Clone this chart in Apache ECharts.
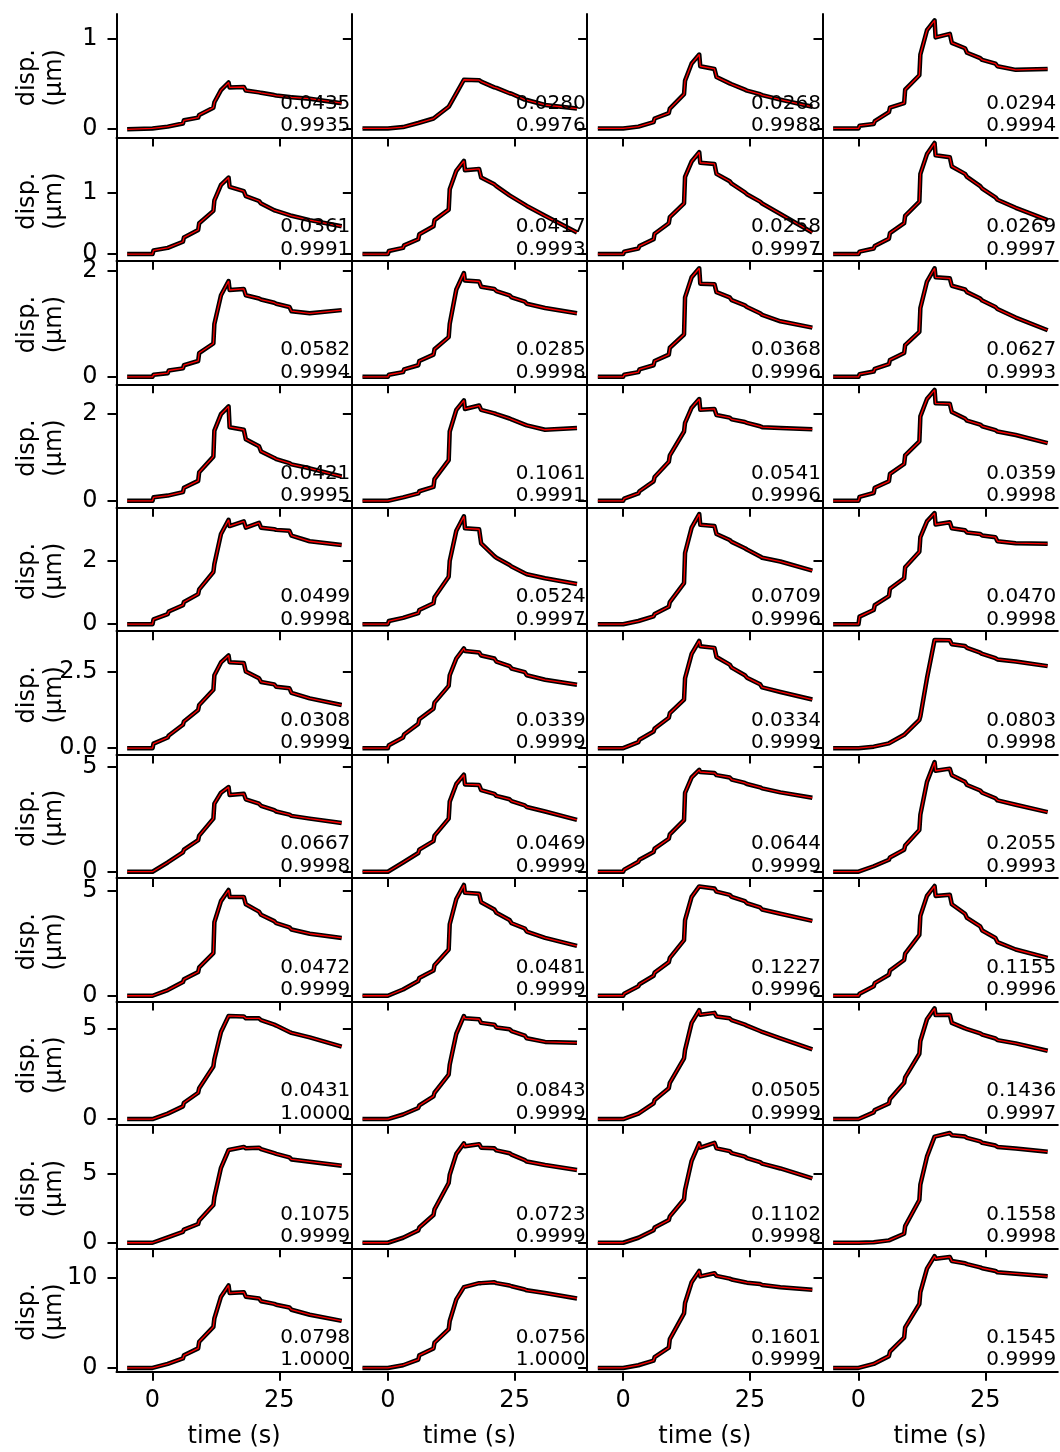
<!DOCTYPE html>
<html><head><meta charset="utf-8">
<script src="https://cdn.jsdelivr.net/npm/echarts@6/dist/echarts.min.js"></script>
<style>html,body{margin:0;padding:0;background:#fff}#c{width:1060px;height:1452px}</style>
</head><body><div id="c"></div>
<script>
// time points (s)
const times = [-5, 0, 0.2, 3, 3.2, 6, 6.2, 9, 9.2, 12, 12.2, 13.5, 15, 15.2, 18, 18.4, 21, 21.4, 24, 24.4, 27, 27.4, 31, 37.3];

// displacement (um), one row of four panels each
const row1 = [
  [-0.01, 0.0, 0.0, 0.02, 0.025, 0.055, 0.09, 0.12, 0.15, 0.23, 0.29, 0.425, 0.51, 0.455, 0.46, 0.42, 0.40, 0.395, 0.37, 0.365, 0.35, 0.345, 0.33, 0.28],
  [0.0, 0.0, 0.005, 0.015, 0.03, 0.06, 0.075, 0.11, 0.13, 0.24, 0.25, 0.39, 0.54, 0.53, 0.535, 0.52, 0.455, 0.45, 0.39, 0.385, 0.32, 0.315, 0.26, 0.22],
  [0.0, 0.0, 0.005, 0.02, 0.035, 0.07, 0.11, 0.17, 0.22, 0.38, 0.53, 0.72, 0.82, 0.69, 0.66, 0.57, 0.5, 0.49, 0.43, 0.42, 0.38, 0.37, 0.32, 0.24],
  [0.0, 0.0, 0.03, 0.05, 0.08, 0.18, 0.23, 0.28, 0.43, 0.59, 0.82, 1.09, 1.20, 1.01, 1.05, 0.95, 0.89, 0.84, 0.78, 0.76, 0.72, 0.69, 0.65, 0.66]
];
const row2 = [
  [0.0, 0.0, 0.06, 0.1, 0.12, 0.2, 0.27, 0.39, 0.5, 0.7, 0.87, 1.12, 1.24, 1.09, 1.02, 0.94, 0.86, 0.82, 0.71, 0.70, 0.63, 0.62, 0.55, 0.45],
  [0.0, 0.0, 0.05, 0.1, 0.14, 0.24, 0.32, 0.45, 0.55, 0.72, 1.05, 1.35, 1.51, 1.36, 1.38, 1.24, 1.13, 1.1, 0.95, 0.93, 0.8, 0.78, 0.62, 0.35],
  [0.0, 0.0, 0.04, 0.09, 0.13, 0.24, 0.33, 0.5, 0.6, 0.82, 1.25, 1.5, 1.65, 1.48, 1.46, 1.3, 1.18, 1.14, 1.0, 0.97, 0.85, 0.82, 0.65, 0.35],
  [0.0, 0.0, 0.04, 0.09, 0.13, 0.25, 0.34, 0.5, 0.62, 0.85, 1.3, 1.62, 1.80, 1.6, 1.57, 1.42, 1.3, 1.25, 1.1, 1.06, 0.92, 0.88, 0.75, 0.55]
];
const row3 = [
  [0.0, 0.0, 0.04, 0.07, 0.12, 0.16, 0.22, 0.3, 0.45, 0.63, 1.0, 1.54, 1.81, 1.64, 1.66, 1.54, 1.48, 1.46, 1.4, 1.38, 1.32, 1.24, 1.2, 1.26],
  [0.0, 0.0, 0.04, 0.09, 0.14, 0.22, 0.3, 0.42, 0.52, 0.75, 1.0, 1.65, 1.96, 1.82, 1.8, 1.7, 1.66, 1.62, 1.54, 1.5, 1.42, 1.38, 1.3, 1.2],
  [0.0, 0.0, 0.04, 0.09, 0.14, 0.22, 0.3, 0.42, 0.55, 0.8, 1.5, 1.88, 2.05, 1.76, 1.75, 1.6, 1.5, 1.45, 1.35, 1.32, 1.2, 1.17, 1.05, 0.93],
  [0.0, 0.0, 0.05, 0.1, 0.15, 0.24, 0.32, 0.45, 0.6, 0.85, 1.3, 1.8, 2.05, 1.88, 1.86, 1.72, 1.65, 1.6, 1.48, 1.44, 1.32, 1.28, 1.12, 0.88]
];
const row4 = [
  [0.0, 0.0, 0.08, 0.12, 0.14, 0.2, 0.3, 0.46, 0.66, 1.02, 1.62, 2.0, 2.18, 1.7, 1.64, 1.42, 1.26, 1.14, 0.99, 0.96, 0.87, 0.84, 0.75, 0.56],
  [0.0, 0.0, 0.04, 0.08, 0.1, 0.17, 0.22, 0.32, 0.5, 0.94, 1.6, 2.1, 2.32, 2.12, 2.2, 2.1, 2.02, 2.0, 1.9, 1.88, 1.76, 1.74, 1.64, 1.68],
  [0.0, 0.0, 0.05, 0.17, 0.22, 0.45, 0.55, 0.9, 1.05, 1.6, 1.8, 2.15, 2.35, 2.1, 2.12, 1.98, 1.92, 1.88, 1.82, 1.8, 1.72, 1.7, 1.68, 1.65],
  [0.0, 0.0, 0.09, 0.18, 0.3, 0.45, 0.62, 0.85, 1.05, 1.37, 1.95, 2.35, 2.56, 2.25, 2.24, 2.05, 1.9, 1.85, 1.76, 1.72, 1.63, 1.6, 1.52, 1.33]
];
const row5 = [
  [0.0, 0.0, 0.15, 0.32, 0.4, 0.6, 0.7, 0.95, 1.1, 1.65, 1.9, 2.85, 3.3, 3.1, 3.25, 3.05, 3.2, 3.05, 3.0, 2.98, 2.95, 2.8, 2.62, 2.5],
  [0.0, 0.0, 0.1, 0.2, 0.25, 0.35, 0.45, 0.66, 0.85, 1.5, 2.0, 2.95, 3.41, 3.03, 3.0, 2.55, 2.15, 2.1, 1.87, 1.82, 1.61, 1.58, 1.45, 1.27],
  [0.0, 0.0, 0.05, 0.1, 0.13, 0.25, 0.32, 0.55, 0.7, 1.3, 2.25, 3.05, 3.48, 3.14, 3.1, 2.85, 2.66, 2.6, 2.4, 2.36, 2.14, 2.1, 1.98, 1.69],
  [0.0, 0.0, 0.24, 0.45, 0.6, 0.89, 1.12, 1.45, 1.8, 2.29, 2.75, 3.25, 3.51, 3.15, 3.22, 3.03, 2.97, 2.9, 2.85, 2.8, 2.75, 2.62, 2.56, 2.54]
];
const row6 = [
  [0.0, 0.0, 0.15, 0.35, 0.42, 0.77, 0.88, 1.26, 1.42, 1.92, 2.4, 2.82, 3.05, 2.83, 2.8, 2.52, 2.3, 2.18, 2.1, 2.02, 1.97, 1.82, 1.64, 1.42],
  [0.0, 0.0, 0.1, 0.35, 0.45, 0.8, 0.95, 1.3, 1.5, 2.05, 2.4, 2.95, 3.28, 3.2, 3.15, 3.05, 2.95, 2.85, 2.7, 2.62, 2.5, 2.4, 2.25, 2.09],
  [0.0, 0.0, 0.06, 0.2, 0.28, 0.55, 0.65, 1.0, 1.15, 1.6, 2.3, 3.1, 3.53, 3.35, 3.3, 3.0, 2.75, 2.65, 2.4, 2.32, 2.1, 2.0, 1.85, 1.6],
  [0.0, 0.0, 0.0, 0.05, 0.06, 0.16, 0.2, 0.44, 0.5, 0.93, 1.05, 2.3, 3.56, 3.5, 3.55, 3.42, 3.36, 3.3, 3.14, 3.1, 2.96, 2.92, 2.85, 2.7]
];
const row7 = [
  [0.0, 0.0, 0.08, 0.44, 0.52, 0.92, 1.05, 1.5, 1.72, 2.53, 3.24, 3.76, 4.03, 3.66, 3.71, 3.45, 3.24, 3.14, 2.93, 2.87, 2.72, 2.66, 2.53, 2.32],
  [0.0, 0.0, 0.08, 0.44, 0.52, 0.89, 1.05, 1.46, 1.72, 2.53, 3.34, 4.18, 4.62, 4.16, 4.13, 3.89, 3.71, 3.61, 3.45, 3.36, 3.16, 3.08, 2.87, 2.47],
  [0.0, 0.0, 0.1, 0.47, 0.57, 0.94, 1.1, 1.57, 1.78, 2.46, 3.76, 4.49, 4.85, 4.75, 4.7, 4.6, 4.49, 4.39, 4.23, 4.18, 4.02, 3.97, 3.78, 3.52],
  [0.0, 0.0, 0.05, 0.26, 0.31, 0.57, 0.68, 1.05, 1.25, 1.99, 2.72, 4.28, 5.22, 4.81, 4.91, 4.6, 4.28, 4.13, 3.87, 3.76, 3.5, 3.4, 3.19, 2.84]
];
const row8 = [
  [0.0, 0.0, 0.05, 0.27, 0.35, 0.65, 0.78, 1.13, 1.35, 2.03, 3.5, 4.5, 5.03, 4.7, 4.7, 4.35, 4.0, 3.85, 3.55, 3.45, 3.25, 3.15, 2.95, 2.75],
  [0.0, 0.0, 0.05, 0.3, 0.38, 0.7, 0.85, 1.2, 1.45, 2.2, 3.4, 4.6, 5.27, 4.9, 4.85, 4.45, 4.1, 3.95, 3.6, 3.45, 3.2, 3.05, 2.75, 2.37],
  [0.0, 0.0, 0.1, 0.45, 0.55, 0.95, 1.1, 1.6, 1.8, 2.65, 3.6, 4.7, 5.2, 5.15, 5.1, 4.95, 4.8, 4.7, 4.5, 4.4, 4.2, 4.1, 3.9, 3.56],
  [0.0, 0.0, 0.1, 0.45, 0.6, 1.0, 1.2, 1.7, 2.0, 2.9, 3.8, 4.75, 5.22, 4.75, 4.8, 4.35, 3.9, 3.7, 3.3, 3.1, 2.75, 2.55, 2.2, 1.8]
];
const row9 = [
  [0.0, 0.0, 0.08, 0.3, 0.4, 0.7, 0.9, 1.45, 1.7, 2.9, 3.3, 4.8, 5.68, 5.6, 5.65, 5.55, 5.55, 5.45, 5.2, 5.15, 4.8, 4.75, 4.5, 3.99],
  [0.0, 0.0, 0.08, 0.25, 0.35, 0.61, 0.75, 1.25, 1.45, 2.45, 3.0, 4.7, 5.68, 5.55, 5.5, 5.3, 5.2, 5.05, 4.95, 4.85, 4.6, 4.45, 4.25, 4.2],
  [0.0, 0.0, 0.08, 0.3, 0.4, 0.86, 1.05, 1.7, 2.0, 3.35, 3.8, 5.3, 6.0, 5.75, 5.85, 5.65, 5.55, 5.45, 5.2, 5.15, 4.85, 4.8, 4.45, 3.84],
  [0.0, 0.0, 0.1, 0.37, 0.5, 0.86, 1.1, 2.0, 2.3, 3.6, 4.3, 5.5, 6.1, 5.73, 5.75, 5.3, 5.0, 4.95, 4.72, 4.65, 4.44, 4.35, 4.17, 3.76]
];
const row10 = [
  [0.0, 0.0, 0.1, 0.39, 0.5, 0.79, 0.95, 1.35, 1.6, 2.72, 3.3, 5.4, 6.68, 6.65, 6.9, 6.8, 6.85, 6.75, 6.45, 6.4, 6.15, 6.0, 5.84, 5.55],
  [0.0, 0.0, 0.08, 0.36, 0.45, 0.89, 1.1, 2.0, 2.4, 4.3, 4.9, 6.4, 7.16, 6.95, 7.1, 6.85, 6.8, 6.65, 6.45, 6.35, 5.95, 5.85, 5.6, 5.24],
  [0.0, 0.0, 0.1, 0.36, 0.5, 0.9, 1.1, 1.63, 1.9, 3.13, 3.8, 5.9, 7.16, 6.85, 7.2, 6.8, 6.6, 6.45, 6.2, 6.1, 5.8, 5.7, 5.35, 4.64],
  [0.0, 0.0, 0.0, 0.03, 0.04, 0.17, 0.25, 0.65, 1.2, 3.08, 4.2, 6.2, 7.64, 7.7, 7.9, 7.75, 7.65, 7.55, 7.3, 7.2, 7.0, 6.9, 6.78, 6.56]
];
const row11 = [
  [0.0, 0.0, 0.05, 0.45, 0.55, 1.05, 1.4, 2.17, 2.9, 4.55, 5.5, 7.9, 9.14, 8.3, 8.4, 7.9, 7.7, 7.4, 7.1, 7.0, 6.7, 6.45, 5.9, 5.22],
  [0.0, 0.0, 0.05, 0.3, 0.45, 0.93, 1.4, 2.16, 2.8, 4.29, 5.2, 7.6, 8.96, 9.0, 9.4, 9.4, 9.5, 9.4, 9.14, 9.05, 8.7, 8.6, 8.3, 7.7],
  [0.0, 0.0, 0.05, 0.3, 0.4, 0.82, 1.2, 2.24, 3.2, 6.04, 7.2, 9.5, 10.75, 10.15, 10.5, 10.2, 9.9, 9.8, 9.5, 9.45, 9.3, 9.2, 8.95, 8.66],
  [0.0, 0.0, 0.1, 0.45, 0.6, 1.31, 1.8, 3.36, 4.5, 7.09, 8.4, 11.0, 12.39, 12.1, 12.3, 11.85, 11.6, 11.5, 11.15, 11.05, 10.75, 10.6, 10.45, 10.15]
];
const rows = [row1, row2, row3, row4, row5, row6, row7, row8, row9, row10, row11];

// fit statistics printed in each panel
const fitErr = [
  ['0.0435', '0.0280', '0.0268', '0.0294'],
  ['0.0361', '0.0417', '0.0258', '0.0269'],
  ['0.0582', '0.0285', '0.0368', '0.0627'],
  ['0.0421', '0.1061', '0.0541', '0.0359'],
  ['0.0499', '0.0524', '0.0709', '0.0470'],
  ['0.0308', '0.0339', '0.0334', '0.0803'],
  ['0.0667', '0.0469', '0.0644', '0.2055'],
  ['0.0472', '0.0481', '0.1227', '0.1155'],
  ['0.0431', '0.0843', '0.0505', '0.1436'],
  ['0.1075', '0.0723', '0.1102', '0.1558'],
  ['0.0798', '0.0756', '0.1601', '0.1545']
];
const fitR2 = [
  ['0.9935', '0.9976', '0.9988', '0.9994'],
  ['0.9991', '0.9993', '0.9997', '0.9997'],
  ['0.9994', '0.9998', '0.9996', '0.9993'],
  ['0.9995', '0.9991', '0.9996', '0.9998'],
  ['0.9998', '0.9997', '0.9996', '0.9998'],
  ['0.9999', '0.9999', '0.9999', '0.9998'],
  ['0.9998', '0.9999', '0.9999', '0.9993'],
  ['0.9999', '0.9999', '0.9996', '0.9996'],
  ['1.0000', '0.9999', '0.9999', '0.9997'],
  ['0.9999', '0.9999', '0.9998', '0.9998'],
  ['1.0000', '1.0000', '0.9999', '0.9999']
];

// axis ranges and ticks
const xRange = [-7.1, 39.3];
const xTicks = [0, 25];
const yMin = [-0.10, -0.11, -0.14, -0.16, -0.22, -0.21, -0.30, -0.27, -0.32, -0.40, -0.42];
const yMax = [1.27, 1.89, 2.19, 2.69, 3.68, 3.85, 5.58, 5.60, 6.48, 8.49, 13.26];
const yTicks = [[0, 1], [0, 1], [0, 2], [0, 2], [0, 2], [0, 2.5], [0, 5], [0, 5], [0, 5], [0, 5], [0, 10]];
const yDecimals = [0, 0, 0, 0, 0, 1, 0, 0, 0, 0, 0];
const yLabel = 'disp.\n(μm)';
const xLabel = 'time (s)';

const chart = echarts.init(document.getElementById('c'), null, {renderer: 'canvas'});
const L0 = 116.5, CW = 235.33, T0 = 14, RH = 123.43;
const FONT = 'DejaVu Sans';
const grids = [], xAxes = [], yAxes = [], series = [], graphics = [];
const nR = rows.length;
for (let r = 0; r < nR; r++) {
  for (let c = 0; c < 4; c++) {
    const i = grids.length;
    const left = L0 + c * CW, top = T0 + r * RH;
    grids.push({left: left, top: top, width: CW, height: RH, containLabel: false});
    xAxes.push({
      type: 'value', gridIndex: i, min: xRange[0], max: xRange[1],
      axisLine: {show: true, onZero: false, lineStyle: {color: '#000', width: 2}},
      axisTick: {show: true, length: 9, lineStyle: {color: '#000', width: 2}, customValues: xTicks},
      axisLabel: {show: r === nR - 1, customValues: xTicks, margin: 17, color: '#000', fontSize: 24, fontFamily: FONT},
      splitLine: {show: false}
    });
    yAxes.push({
      type: 'value', gridIndex: i, min: yMin[r], max: yMax[r],
      axisLine: {show: true, onZero: false, lineStyle: {color: '#000', width: 2}},
      axisTick: {show: true, length: 9, lineStyle: {color: '#000', width: 2}, customValues: yTicks[r]},
      axisLabel: {show: c === 0, customValues: yTicks[r], margin: 19, color: '#000', fontSize: 24, fontFamily: FONT,
        formatter: (v) => Number(v).toFixed(yDecimals[r])},
      splitLine: {show: false}
    });
    const pts = times.map((t, k) => [t, rows[r][c][k]]);
    series.push({type: 'line', xAxisIndex: i, yAxisIndex: i, data: pts, symbol: 'none', silent: true,
      lineStyle: {color: '#000', width: 4.5, join: 'round'}, z: 2, animation: false});
    series.push({type: 'line', xAxisIndex: i, yAxisIndex: i, data: pts, symbol: 'none', silent: true,
      lineStyle: {color: '#ff0000', width: 1.3}, z: 3, animation: false});
    const right = left + CW - 1.5, bottom = top + RH;
    graphics.push({type: 'text', x: right, y: bottom - 34, z: 10, style: {text: fitErr[r][c], fill: '#000', fontSize: 20, fontFamily: FONT, align: 'right', verticalAlign: 'middle', textAlign: 'right', textVerticalAlign: 'middle'}});
    graphics.push({type: 'text', x: right, y: bottom - 11.5, z: 10, style: {text: fitR2[r][c], fill: '#000', fontSize: 20, fontFamily: FONT, align: 'right', verticalAlign: 'middle', textAlign: 'right', textVerticalAlign: 'middle'}});
  }
  graphics.push({type: 'text', x: 41, y: T0 + r * RH + RH / 2 + 2, rotation: Math.PI / 2, z: 10,
    style: {text: yLabel, fill: '#000', fontSize: 24, fontFamily: FONT, lineHeight: 27, align: 'center', verticalAlign: 'middle', textAlign: 'center', textVerticalAlign: 'middle'}});
}
for (let c = 0; c < 4; c++) {
  graphics.push({type: 'text', x: L0 + c * CW + CW / 2, y: 1437, z: 10,
    style: {text: xLabel, fill: '#000', fontSize: 24, fontFamily: FONT, align: 'center', verticalAlign: 'middle', textAlign: 'center', textVerticalAlign: 'middle'}});
}
chart.setOption({
  animation: false,
  backgroundColor: '#fff',
  grid: grids, xAxis: xAxes, yAxis: yAxes, series: series,
  graphic: {elements: graphics}
});
</script></body></html>
